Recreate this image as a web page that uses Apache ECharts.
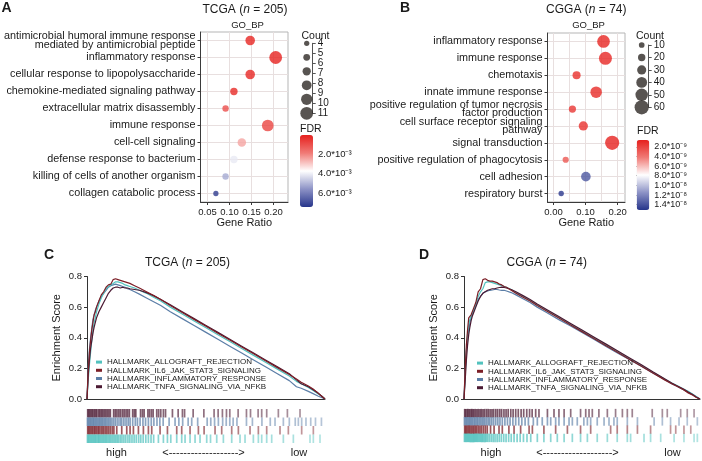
<!DOCTYPE html>
<html>
<head>
<meta charset="utf-8">
<script src="https://cdn.jsdelivr.net/npm/echarts@6/dist/echarts.min.js"></script>
<style>
  html, body { margin: 0; padding: 0; background: #fff; }
  #chart { width: 702px; height: 461px; }
</style>
</head>
<body>
<div id="chart"></div>
<script>
const FONT = 'Liberation Sans, Arial, Helvetica, sans-serif';
const INK = '#1a1a1a';
const GRID_COL = '#e8dfdf';

// ---------- A : GO_BP, TCGA ----------
const termsA = [
  'antimicrobial humoral immune response\nmediated by antimicrobial peptide',
  'inflammatory response',
  'cellular response to lipopolysaccharide',
  'chemokine-mediated signaling pathway',
  'extracellular matrix disassembly',
  'immune response',
  'cell-cell signaling',
  'defense response to bacterium',
  'killing of cells of another organism',
  'collagen catabolic process'
];
const ratioA = [0.147, 0.205, 0.147, 0.110, 0.091, 0.187, 0.128, 0.110, 0.091, 0.069];
const countA = [8, 11, 8, 6, 5, 10, 7, 6, 5, 4];
const fdrA = [0.00015, 0.0001, 0.0002, 0.00025, 0.001, 0.0008, 0.0025, 0.0041, 0.0052, 0.0073];
const ratioTicksA = [0.05, 0.10, 0.15, 0.20];
const ratioLabelsA = ['0.05', '0.10', '0.15', '0.20'];
const countTicksA = [4, 5, 6, 7, 8, 9, 10, 11];
const countKeysA = [4, 5.4, 6.8, 8.2, 9.6, 11];
const fdrTicksA = [0.002, 0.004, 0.006];
const fdrLabelsA = ['2.0*10\u207B\u00B3', '4.0*10\u207B\u00B3', '6.0*10\u207B\u00B3'];
const fdrRangeA = [0.00005, 0.00744];

// ---------- B : GO_BP, CGGA ----------
const termsB = [
  'inflammatory response',
  'immune response',
  'chemotaxis',
  'innate immune response',
  'positive regulation of tumor necrosis\nfactor production',
  'cell surface receptor signaling\npathway',
  'signal transduction',
  'positive regulation of phagocytosis',
  'cell adhesion',
  'respiratory burst'
];
const ratioB = [0.156, 0.162, 0.072, 0.133, 0.059, 0.093, 0.183, 0.038, 0.101, 0.024];
const countB = [51, 53, 24, 44, 19, 31, 60, 13, 33, 8];
const fdrB = [0.8e-9, 0.9e-9, 1.2e-9, 1.0e-9, 1.5e-9, 1.3e-9, 0.7e-9, 2.8e-9, 1.38e-8, 1.5e-8];
const ratioTicksB = [0, 0.10, 0.20];
const ratioLabelsB = ['0.00', '0.10', '0.20'];
const ratioMinorB = [0.05, 0.15];
const countTicksB = [10, 20, 30, 40, 50, 60];
const countKeysB = [10, 20, 30, 40, 50, 60];
const fdrTicksB = [2e-9, 4e-9, 6e-9, 8e-9, 1.0e-8, 1.2e-8, 1.4e-8];
const fdrLabelsB = ['2.0*10\u207B\u2079', '4.0*10\u207B\u2079', '6.0*10\u207B\u2079', '8.0*10\u207B\u2079',
                    '1.0*10\u207B\u2078', '1.2*10\u207B\u2078', '1.4*10\u207B\u2078'];
const fdrRangeB = [0.6e-9, 1.51e-8];

const fdrColors = ['#e6201d', '#f07a76', '#ffffff', '#8d93c6', '#27358b'];

// ---------- C / D : GSEA ----------
const hallmarks = ['HALLMARK_ALLOGRAFT_REJECTION', 'HALLMARK_IL6_JAK_STAT3_SIGNALING',
                   'HALLMARK_INFLAMMATORY_RESPONSE', 'HALLMARK_TNFA_SIGNALING_VIA_NFKB'];
const hallmarkColors = ['#52c2be', '#7c1f27', '#5b7ea7', '#4b1a33'];
const esTicks = [0, 0.2, 0.4, 0.6, 0.8];
const esLabels = ['0.0', '0.2', '0.4', '0.6', '0.8'];

// rank position (% of ranked list)
const esPos = [0, 0.5, 1, 1.5, 2, 2.5, 3, 3.5, 4, 5, 6, 7, 8, 9, 10, 11, 12, 13, 14, 15, 16, 17, 18,
               20, 22, 25, 28, 31, 35, 40, 45, 50, 55, 60, 65, 70, 75, 80, 85, 88, 90, 93, 95, 97, 98.5, 100];

const esC_allo = [0, 0.12, 0.22, 0.30, 0.38, 0.45, 0.50, 0.53, 0.57, 0.62, 0.66, 0.69, 0.72, 0.735, 0.745,
  0.755, 0.765, 0.765, 0.76, 0.755, 0.745, 0.74, 0.735, 0.725, 0.71, 0.69, 0.665, 0.64, 0.60, 0.555, 0.51,
  0.465, 0.42, 0.375, 0.33, 0.285, 0.24, 0.195, 0.15, 0.115, 0.10, 0.075, 0.055, 0.035, 0.02, 0];
const esC_il6 = [0, 0.18, 0.30, 0.38, 0.45, 0.50, 0.55, 0.57, 0.60, 0.64, 0.68, 0.70, 0.73, 0.745, 0.75,
  0.78, 0.785, 0.78, 0.775, 0.77, 0.765, 0.76, 0.755, 0.74, 0.725, 0.70, 0.675, 0.65, 0.61, 0.565, 0.52,
  0.475, 0.43, 0.385, 0.34, 0.295, 0.25, 0.205, 0.16, 0.13, 0.11, 0.085, 0.065, 0.04, 0.02, 0];
const esC_infl = [0, 0.20, 0.32, 0.40, 0.46, 0.52, 0.55, 0.58, 0.60, 0.64, 0.67, 0.69, 0.71, 0.73, 0.74,
  0.745, 0.75, 0.745, 0.74, 0.735, 0.73, 0.72, 0.715, 0.70, 0.685, 0.66, 0.635, 0.61, 0.57, 0.525, 0.48,
  0.435, 0.39, 0.345, 0.30, 0.255, 0.21, 0.165, 0.12, 0.08, 0.07, 0.05, 0.035, 0.02, 0.01, 0];
const esC_tnfa = [0, 0.15, 0.25, 0.33, 0.38, 0.43, 0.47, 0.50, 0.53, 0.57, 0.60, 0.63, 0.66, 0.69, 0.71,
  0.725, 0.73, 0.73, 0.725, 0.73, 0.725, 0.725, 0.72, 0.715, 0.71, 0.695, 0.675, 0.65, 0.615, 0.57, 0.525,
  0.48, 0.435, 0.39, 0.345, 0.30, 0.255, 0.21, 0.165, 0.125, 0.10, 0.08, 0.06, 0.04, 0.02, 0];

const esD_allo = [0, 0.15, 0.30, 0.42, 0.48, 0.52, 0.54, 0.56, 0.58, 0.62, 0.67, 0.70, 0.72, 0.76, 0.765,
  0.765, 0.76, 0.755, 0.75, 0.745, 0.74, 0.735, 0.73, 0.715, 0.695, 0.67, 0.645, 0.615, 0.58, 0.535, 0.49,
  0.445, 0.40, 0.355, 0.31, 0.265, 0.22, 0.175, 0.13, 0.105, 0.09, 0.065, 0.05, 0.03, 0.015, 0];
const esD_il6 = [0, 0.20, 0.35, 0.45, 0.53, 0.54, 0.55, 0.56, 0.59, 0.63, 0.70, 0.72, 0.78, 0.785, 0.775,
  0.77, 0.77, 0.765, 0.76, 0.75, 0.745, 0.735, 0.73, 0.71, 0.69, 0.665, 0.64, 0.61, 0.575, 0.53, 0.485,
  0.44, 0.395, 0.35, 0.305, 0.26, 0.215, 0.17, 0.125, 0.10, 0.085, 0.06, 0.04, 0.025, 0.01, 0];
const esD_infl = [0, 0.18, 0.32, 0.40, 0.46, 0.50, 0.53, 0.55, 0.57, 0.61, 0.65, 0.67, 0.69, 0.70, 0.705,
  0.71, 0.712, 0.715, 0.715, 0.712, 0.71, 0.71, 0.705, 0.695, 0.68, 0.655, 0.63, 0.60, 0.565, 0.52, 0.478,
  0.435, 0.39, 0.345, 0.30, 0.258, 0.215, 0.17, 0.128, 0.10, 0.085, 0.06, 0.045, 0.03, 0.015, 0];
const esD_tnfa = [0, 0.12, 0.25, 0.35, 0.42, 0.47, 0.51, 0.54, 0.56, 0.60, 0.64, 0.67, 0.69, 0.70, 0.71,
  0.715, 0.72, 0.72, 0.725, 0.728, 0.73, 0.728, 0.725, 0.715, 0.70, 0.675, 0.65, 0.62, 0.585, 0.54, 0.495,
  0.45, 0.405, 0.36, 0.315, 0.27, 0.225, 0.178, 0.132, 0.105, 0.088, 0.065, 0.045, 0.028, 0.012, 0];

// barcode rows, top to bottom
const barRows = ['TNFA', 'INFL', 'IL6', 'ALLO'];
const barColors = ['#4b1a33', '#5b7ea7', '#7c1f27', '#52c2be'];

const hitsC_tnfa = [0.3, 0.8, 1.3, 1.9, 2.4, 3.0, 3.6, 4.1, 4.8, 5.4, 6.0, 6.6, 7.2, 7.9, 8.5, 9.2, 9.8, 11.2,
  11.9, 12.6, 13.4, 14.1, 14.9, 15.6, 16.4, 17.1, 17.8, 19.2, 19.9, 20.5, 22.5, 23.3, 24.0, 25.6, 26.3, 27.1,
  27.8, 29.3, 30.1, 31.0, 32.1, 33.0, 35.9, 38.3, 40.1, 41.0, 44.6, 49.1, 53.4, 55.1, 56.9, 58.6, 60.0, 63.5,
  67.0, 68.7, 71.9, 73.4, 75.5, 80.4, 84.2, 89.5];
const hitsC_infl = [0.2, 0.6, 1.1, 1.5, 2.0, 2.5, 2.9, 3.4, 3.9, 4.4, 4.9, 5.4, 5.9, 6.4, 6.9, 7.5, 8.0, 8.6,
  9.2, 9.8, 10.5, 11.3, 12.1, 13.0, 13.9, 14.6, 15.5, 16.4, 17.3, 18.1, 19.2, 20.3, 21.2, 22.3, 23.5, 24.6,
  25.8, 27.0, 28.1, 29.4, 30.6, 32.0, 34.5, 37.0, 38.6, 40.2, 42.5, 44.0, 46.5, 50.5, 52.0, 53.6, 55.2, 57.0,
  58.5, 60.0, 61.4, 63.0, 67.0, 69.5, 73.5, 77.0, 79.0, 82.5, 85.0, 87.5, 88.8, 90.2, 92.0, 94.0, 96.0, 98.5];
const hitsC_il6 = [0.3, 0.8, 1.3, 1.9, 2.4, 3.0, 3.5, 4.1, 4.7, 5.2, 5.9, 6.5, 7.1, 7.8, 8.4, 9.1, 9.8, 10.6,
  11.3, 12.5, 14.6, 16.7, 18.1, 19.5, 21.6, 23.7, 25.8, 27.2, 30.7, 33.8, 37.7, 39.8, 43.3, 46.8, 49.2, 53.8,
  56.6, 60.8, 63.6, 68.5, 72.0, 75.5, 81.1, 84.6, 90.2, 95.1];
const hitsC_allo = [0.2, 0.6, 1.0, 1.5, 1.9, 2.4, 2.8, 3.3, 3.7, 4.2, 4.7, 5.1, 5.6, 6.1, 6.6, 7.1, 7.6, 8.1,
  8.6, 9.2, 9.7, 10.3, 10.9, 11.5, 12.1, 12.7, 13.3, 14.0, 14.7, 15.5, 16.3, 17.2, 18.0, 18.9, 19.8, 20.7,
  21.7, 22.6, 23.6, 24.7, 25.8, 26.9, 28.0, 30.0, 32.1, 33.8, 35.2, 37.7, 39.8, 41.2, 43.3, 45.4, 47.5, 50.3,
  51.9, 54.5, 57.3, 60.8, 64.3, 66.4, 69.9, 72.0, 73.4, 75.5, 77.6, 82.5, 86.7, 93.7, 95.1, 97.9];

const hitsD_tnfa = [0.3, 0.8, 1.4, 1.9, 2.5, 3.1, 3.6, 4.2, 4.8, 5.5, 6.1, 6.8, 7.4, 8.1, 8.8, 9.6, 10.3, 11.1,
  11.9, 12.6, 13.5, 14.3, 15.2, 16.0, 17.0, 17.9, 18.8, 19.9, 20.9, 22.0, 23.1, 24.3, 25.4, 26.7, 27.9, 29.0,
  30.5, 31.9, 35.5, 38.3, 40.4, 42.6, 45.4, 49.6, 51.8, 53.2, 54.6, 57.4, 61.0, 64.5, 67.4, 69.5, 71.6, 80.1,
  84.4, 86.5, 92.2, 95.0, 97.9];
const hitsD_infl = [0.2, 0.7, 1.2, 1.7, 2.2, 2.7, 3.2, 3.7, 4.3, 4.8, 5.4, 5.9, 6.5, 7.1, 7.7, 8.3, 8.9, 9.6,
  10.3, 11.0, 11.8, 12.6, 13.5, 14.4, 15.3, 16.3, 17.4, 18.5, 19.6, 20.8, 22.0, 23.3, 24.6, 26.0, 27.4, 29.5,
  31.2, 33.3, 35.5, 36.9, 39.0, 40.4, 42.6, 44.7, 46.1, 48.2, 51.0, 52.5, 53.9, 56.7, 59.6, 61.7, 63.8, 65.2,
  69.5, 73.8, 80.9, 84.4, 87.9, 91.5, 95.0, 99.3];
const hitsD_il6 = [0.3, 0.8, 1.3, 1.9, 2.4, 3.0, 3.6, 4.2, 4.8, 5.4, 6.1, 6.8, 7.5, 8.3, 9.1, 9.9, 11.3, 12.8,
  14.9, 16.3, 19.1, 21.3, 24.1, 27.7, 29.1, 34.0, 39.0, 44.0, 49.6, 53.9, 62.4, 65.2, 69.5, 73.8, 79.4, 87.9,
  90.1, 93.6, 96.5];
const hitsD_allo = [0.2, 0.6, 1.0, 1.4, 1.8, 2.2, 2.6, 3.0, 3.4, 3.8, 4.2, 4.6, 5.0, 5.4, 5.8, 6.2, 6.7, 7.1,
  7.6, 8.0, 8.5, 9.0, 9.5, 10.1, 10.8, 11.6, 12.4, 13.2, 14.1, 15.0, 15.9, 16.9, 17.9, 19.0, 20.1, 21.3, 22.6,
  23.9, 25.3, 26.8, 28.4, 31.2, 34.0, 36.9, 39.7, 42.6, 46.1, 49.6, 52.5, 56.7, 61.0, 65.2, 69.5, 70.9, 76.6,
  79.4, 83.7, 89.4, 93.6, 97.9, 99.3];

// ---------- helpers ----------
const sizeA = c => 1.0 + 1.07 * c;
const sizeB = c => 4.0 + 0.17 * c;

function nearest(ticks, labels) {
  return v => {
    let best = 0;
    ticks.forEach((t, i) => { if (Math.abs(t - v) < Math.abs(ticks[best] - v)) best = i; });
    return labels[best];
  };
}

function fade(hex, x) {
  const r = parseInt(hex.slice(1, 3), 16), g = parseInt(hex.slice(3, 5), 16), b = parseInt(hex.slice(5, 7), 16);
  const a = 1 - 0.45 * x / 100;
  return 'rgba(' + r + ',' + g + ',' + b + ',' + a.toFixed(3) + ')';
}

// the GSEA legend uses a condensed face when one is installed
function hasFont(name) {
  const c = document.createElement('canvas').getContext('2d');
  const probe = 'HALLMARK_ALLOGRAFT_REJECTION';
  c.font = '20px monospace';
  const base = c.measureText(probe).width;
  c.font = '20px "' + name + '", monospace';
  return Math.abs(c.measureText(probe).width - base) > 0.5;
}
const narrowOK = hasFont('Liberation Sans Narrow');
const legendFont = narrowOK ? { fontFamily: '"Liberation Sans Narrow"', fontSize: 9.7 } : { fontFamily: FONT, fontSize: 8 };

const txt = (size, extra) => Object.assign({ fontSize: size, fontFamily: FONT, color: INK }, extra || {});
const off = { show: false };

const idxA = termsA.map((_, i) => i);
const idxB = termsB.map((_, i) => i);

// ---------- grids ----------
const grid = [
  { left: 200.5, top: 32, width: 87.5, height: 170, show: true, borderColor: '#b5b5b5', borderWidth: 1 },  // 0 A
  { left: 300.7, top: 43.3, width: 12, height: 70 },                                                      // 1 A count
  { left: 300, top: 135, width: 13, height: 72 },                                                         // 2 A FDR
  { left: 547.5, top: 33, width: 77.5, height: 169, show: true, borderColor: '#b5b5b5', borderWidth: 1 },  // 3 B
  { left: 634.7, top: 45, width: 14, height: 62.3 },                                                      // 4 B count
  { left: 636.7, top: 140, width: 12.6, height: 70 },                                                     // 5 B FDR
  { left: 87, top: 276.5, width: 238, height: 122.5 },                                                    // 6 C
  { left: 87, top: 409, width: 238, height: 34 },                                                         // 7 C barcode
  { left: 464, top: 276.5, width: 236, height: 122.5 },                                                   // 8 D
  { left: 464, top: 409, width: 235, height: 33 }                                                         // 9 D barcode
].map(g => Object.assign({ outerBoundsMode: 'none', containLabel: false }, g));

const keepAll = { showMinLabel: true, showMaxLabel: true, hideOverlap: false };

function ratioAxis(gi, min, max, ticks, labels) {
  return {
    gridIndex: gi, type: 'value', min: min, max: max,
    name: 'Gene Ratio', nameLocation: 'middle', nameGap: 15.5, nameTextStyle: txt(11),
    axisLine: { show: true, onZero: false, lineStyle: { color: '#3a3a3a' } },
    axisTick: { show: true, length: 3, customValues: ticks, lineStyle: { color: '#3a3a3a' } },
    axisLabel: Object.assign({ customValues: ticks, formatter: nearest(ticks, labels), fontSize: 9.5,
                 fontFamily: FONT, color: INK, margin: 5 }, keepAll),
    splitLine: { show: true, lineStyle: { color: GRID_COL } }
  };
}
function termAxis(gi, terms, idx) {
  return {
    gridIndex: gi, type: 'value', min: -0.5, max: 9.5, inverse: true,
    axisLine: { show: true, onZero: false, lineStyle: { color: '#3a3a3a' } },
    axisTick: { show: true, length: 3, customValues: idx, lineStyle: { color: '#3a3a3a' } },
    axisLabel: Object.assign({ customValues: idx, formatter: v => terms[Math.round(v)], fontSize: 10.8,
                 lineHeight: 8.7, fontFamily: FONT, color: INK, margin: 5 }, keepAll),
    splitLine: { show: true, lineStyle: { color: GRID_COL } }
  };
}
function countAxis(gi, ticks) {
  return {
    gridIndex: gi, type: 'value', min: ticks[0], max: ticks[ticks.length - 1], inverse: true, position: 'right',
    axisLine: { show: true, onZero: false, lineStyle: { color: '#555' } },
    axisTick: { show: true, length: 3, customValues: ticks, lineStyle: { color: '#555' } },
    axisLabel: Object.assign({ customValues: ticks, fontSize: 10, lineHeight: 10, fontFamily: FONT,
                 color: INK, margin: 5 }, keepAll),
    splitLine: off
  };
}
function fdrAxis(gi, range, ticks, labels, size) {
  return {
    gridIndex: gi, type: 'value', min: range[0], max: range[1], inverse: true, position: 'right',
    axisLine: { show: false },
    axisTick: { show: true, length: 3, customValues: ticks, lineStyle: { color: '#333' } },
    axisLabel: Object.assign({ customValues: ticks, formatter: nearest(ticks, labels), fontSize: size,
                 lineHeight: size, fontFamily: FONT, color: INK, margin: 5 }, keepAll),
    splitLine: off
  };
}
function esXAxis(gi) {
  return {
    gridIndex: gi, type: 'value', min: 0, max: 100,
    axisLine: { show: true, onZero: false, lineStyle: { color: '#333' } },
    axisTick: off, axisLabel: off, splitLine: off
  };
}
function esYAxis(gi) {
  return {
    gridIndex: gi, type: 'value', min: 0, max: 0.8, interval: 0.2,
    name: 'Enrichment Score', nameLocation: 'middle', nameGap: 25, nameRotate: 90, nameTextStyle: txt(11),
    axisLine: { show: true, onZero: false, lineStyle: { color: '#333' } },
    axisTick: { show: true, length: 3, lineStyle: { color: '#333' } },
    axisLabel: Object.assign({ formatter: nearest(esTicks, esLabels), fontSize: 9.5, fontFamily: FONT,
                 color: INK, margin: 5 }, keepAll),
    splitLine: off
  };
}

const xAxis = [
  ratioAxis(0, 0.034, 0.233, ratioTicksA, ratioLabelsA),
  { gridIndex: 1, type: 'category', data: ['Count'], show: false },
  { gridIndex: 2, type: 'value', min: 0, max: 1, show: false },
  ratioAxis(3, -0.0187, 0.223, ratioTicksB, ratioLabelsB),
  { gridIndex: 4, type: 'category', data: ['Count'], show: false },
  { gridIndex: 5, type: 'value', min: 0, max: 1, show: false },
  esXAxis(6),
  { gridIndex: 7, type: 'value', min: 0, max: 100, show: false },
  esXAxis(8),
  { gridIndex: 9, type: 'value', min: 0, max: 100, show: false },
  // minor vertical grid lines in B
  { gridIndex: 3, type: 'value', min: -0.0187, max: 0.223,
    axisLine: { show: false, onZero: false }, axisTick: { show: false, customValues: ratioMinorB },
    axisLabel: { show: false, customValues: ratioMinorB },
    splitLine: { show: true, lineStyle: { color: GRID_COL } } }
];

const yAxis = [
  termAxis(0, termsA, idxA),
  countAxis(1, countTicksA),
  fdrAxis(2, fdrRangeA, fdrTicksA, fdrLabelsA, 9.5),
  termAxis(3, termsB, idxB),
  countAxis(4, countTicksB),
  fdrAxis(5, fdrRangeB, fdrTicksB, fdrLabelsB, 9),
  esYAxis(6),
  { gridIndex: 7, type: 'category', data: barRows, inverse: true, show: false },
  esYAxis(8),
  { gridIndex: 9, type: 'category', data: barRows, inverse: true, show: false }
];

// ---------- series ----------
const series = [];
series.push({   // 0
  type: 'scatter', xAxisIndex: 0, yAxisIndex: 0, z: 4,
  data: termsA.map((t, i) => [ratioA[i], i, fdrA[i], countA[i]]),
  symbolSize: v => sizeA(v[3])
});
series.push({   // 1
  type: 'scatter', xAxisIndex: 1, yAxisIndex: 1,
  data: countKeysA.map(c => ['Count', c]),
  symbolSize: v => sizeA(v[1]), itemStyle: { color: '#2e2926' }
});
series.push({   // 2
  type: 'scatter', xAxisIndex: 3, yAxisIndex: 3, z: 4,
  data: termsB.map((t, i) => [ratioB[i], i, fdrB[i], countB[i]]),
  symbolSize: v => sizeB(v[3])
});
series.push({   // 3
  type: 'scatter', xAxisIndex: 4, yAxisIndex: 4,
  data: countKeysB.map(c => ['Count', c]),
  symbolSize: v => sizeB(v[1]), itemStyle: { color: '#2e2926' }
});

function esLine(name, ys, axis) {
  const col = hallmarkColors[hallmarks.indexOf(name)];
  return {
    type: 'line', name: name, xAxisIndex: axis, yAxisIndex: axis,
    data: esPos.map((x, i) => [x, ys[i]]),
    showSymbol: false, symbol: 'none', z: 3,
    lineStyle: { width: 1.2, color: col }, itemStyle: { color: col }
  };
}
[[hallmarks[2], esC_infl], [hallmarks[0], esC_allo], [hallmarks[3], esC_tnfa], [hallmarks[1], esC_il6]]
  .forEach(p => series.push(esLine(p[0], p[1], 6)));
[[hallmarks[2], esD_infl], [hallmarks[0], esD_allo], [hallmarks[3], esD_tnfa], [hallmarks[1], esD_il6]]
  .forEach(p => series.push(esLine(p[0], p[1], 8)));

function barcode(hits, row, axis) {
  const col = barColors[barRows.indexOf(row)];
  return {
    type: 'scatter', xAxisIndex: axis, yAxisIndex: axis, silent: true,
    data: hits.map(h => [h, row]),
    symbol: 'rect', symbolSize: [1.7, 8.5],
    itemStyle: { color: p => fade(col, p.value[0]) }
  };
}
series.push(barcode(hitsC_tnfa, 'TNFA', 7), barcode(hitsC_infl, 'INFL', 7),
            barcode(hitsC_il6, 'IL6', 7), barcode(hitsC_allo, 'ALLO', 7));
series.push(barcode(hitsD_tnfa, 'TNFA', 9), barcode(hitsD_infl, 'INFL', 9),
            barcode(hitsD_il6, 'IL6', 9), barcode(hitsD_allo, 'ALLO', 9));

// ---------- colour bars ----------
const visualMap = [
  { type: 'continuous', seriesIndex: 0, dimension: 2, min: fdrRangeA[0], max: fdrRangeA[1], inverse: true,
    calculable: false, hoverLink: false, left: 300, top: 135, itemWidth: 13, itemHeight: 72, padding: 0,
    inRange: { color: fdrColors } },
  { type: 'continuous', seriesIndex: 2, dimension: 2, min: fdrRangeB[0], max: fdrRangeB[1], inverse: true,
    calculable: false, hoverLink: false, left: 636.7, top: 140, itemWidth: 12.6, itemHeight: 70, padding: 0,
    inRange: { color: fdrColors } }
];

// ---------- legends ----------
const legendBase = {
  data: hallmarks, orient: 'vertical', itemWidth: 6, itemHeight: 3, itemGap: 0, padding: 0,
  icon: 'rect', selectedMode: false,
  textStyle: Object.assign({ lineHeight: 8.2, color: INK }, legendFont)
};
const legend = [
  Object.assign({}, legendBase, { left: 96, top: 358 }),
  Object.assign({}, legendBase, { left: 477, top: 359 })
];

// ---------- texts ----------
function label(x, y, text, size, extra) {
  const st = Object.assign({
    text: text, fontSize: size, fontFamily: FONT, fill: INK,
    align: 'left', textAlign: 'left', verticalAlign: 'middle', textVerticalAlign: 'middle'
  }, extra || {});
  return { type: 'text', x: x, y: y, silent: true, style: st };
}
function centered(x, y, text, size, extra) {
  return label(x, y, text, size, Object.assign({ align: 'center', textAlign: 'center' }, extra || {}));
}
function title(x, y, pre, post) {
  return centered(x, y, '{a|' + pre + '}{i|n}{a|' + post + '}', 12, {
    rich: {
      a: { fontSize: 12, fontFamily: FONT, fill: INK, color: INK },
      i: { fontSize: 12, fontFamily: FONT, fontStyle: 'italic', fill: INK, color: INK }
    }
  });
}
const bold = { fontWeight: 'bold' };
const arrow = '<' + '-------------------' + '>';

const graphic = [
  label(1.5, 8, 'A', 14, bold),
  label(400, 8, 'B', 14, bold),
  label(44, 255, 'C', 14, bold),
  label(419, 255, 'D', 14, bold),
  title(245, 10, 'TCGA (', ' = 205)'),
  title(586.3, 10, 'CGGA (', ' = 74)'),
  title(187.5, 262.7, 'TCGA (', ' = 205)'),
  title(546.8, 262.7, 'CGGA (', ' = 74)'),
  centered(247.5, 25, 'GO_BP', 9.5),
  centered(588.5, 25, 'GO_BP', 9.5),
  label(301.5, 36, 'Count', 10.5),
  label(636, 36, 'Count', 10.5),
  label(300, 129.3, 'FDR', 10.5),
  label(637, 131, 'FDR', 10.5),
  centered(116.5, 453.3, 'high', 11),
  centered(203.5, 453.3, arrow, 11),
  centered(299, 453.3, 'low', 11),
  centered(491, 453.3, 'high', 11),
  centered(577.5, 453.3, arrow, 11),
  centered(672.5, 453.3, 'low', 11)
];

const chart = echarts.init(document.getElementById('chart'), null, { renderer: 'canvas' });
chart.setOption({
  backgroundColor: '#ffffff',
  animation: false,
  textStyle: { fontFamily: FONT },
  grid: grid,
  xAxis: xAxis,
  yAxis: yAxis,
  visualMap: visualMap,
  legend: legend,
  series: series,
  graphic: graphic
});
</script>
</body>
</html>
